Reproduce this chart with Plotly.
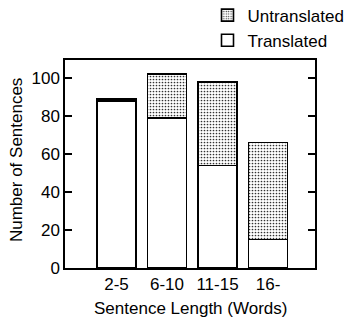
import plotly.graph_objects as go

categories = ["2-5", "6-10", "11-15", "16-"]
translated = [88, 79, 54, 15]
untranslated = [1, 23, 44, 51]
y_ticks = [0, 20, 40, 60, 80, 100]

FONT = "Liberation Sans, Arial, sans-serif"
x_idx = list(range(len(categories)))

fig = go.Figure()
fig.add_trace(go.Bar(
    x=x_idx, y=translated, name="Translated", width=0.77,
    marker=dict(color="white", line=dict(color="black", width=1.6)),
))
fig.add_trace(go.Bar(
    x=x_idx, y=untranslated, name="Untranslated", width=0.77,
    marker=dict(color="white", line=dict(color="black", width=1.6),
                pattern=dict(shape=".", size=3, solidity=0.25,
                             fgcolor="#333333", bgcolor="white", fillmode="replace")),
))

fig.update_layout(
    width=346, height=318,
    margin=dict(l=65, r=31, t=60, b=50, autoexpand=False),
    barmode="stack",
    plot_bgcolor="white", paper_bgcolor="white",
    font=dict(family=FONT, size=17, color="black"),
    showlegend=True,
    legend=dict(x=0.57, y=1.30, xanchor="left", yanchor="top",
                traceorder="reversed", font=dict(size=17),
                bgcolor="rgba(0,0,0,0)", tracegroupgap=0, itemwidth=30),
    xaxis=dict(
        range=[-1.02, 3.93], tickmode="array", tickvals=x_idx, ticktext=categories,
        showline=True, linecolor="black", linewidth=1.5, mirror=True,
        ticks="", showgrid=False, zeroline=False,
    ),
    yaxis=dict(
        range=[0, 109.5], tickmode="array", tickvals=y_ticks,
        showline=True, linecolor="black", linewidth=1.5, mirror="ticks",
        ticks="inside", ticklen=7, tickwidth=1.5, tickcolor="black",
        showgrid=False, zeroline=False,
    ),
    annotations=[
        dict(text="Sentence Length (Words)", xref="paper", yref="paper",
             x=0.5, y=-0.14, xanchor="center", yanchor="top",
             showarrow=False, font=dict(size=17)),
        dict(text="Number of Sentences", xref="paper", yref="paper",
             x=-0.196, y=0.519, xanchor="center", yanchor="middle",
             textangle=-90, showarrow=False, font=dict(size=17)),
    ],
)

fig.write_html("out.html")
